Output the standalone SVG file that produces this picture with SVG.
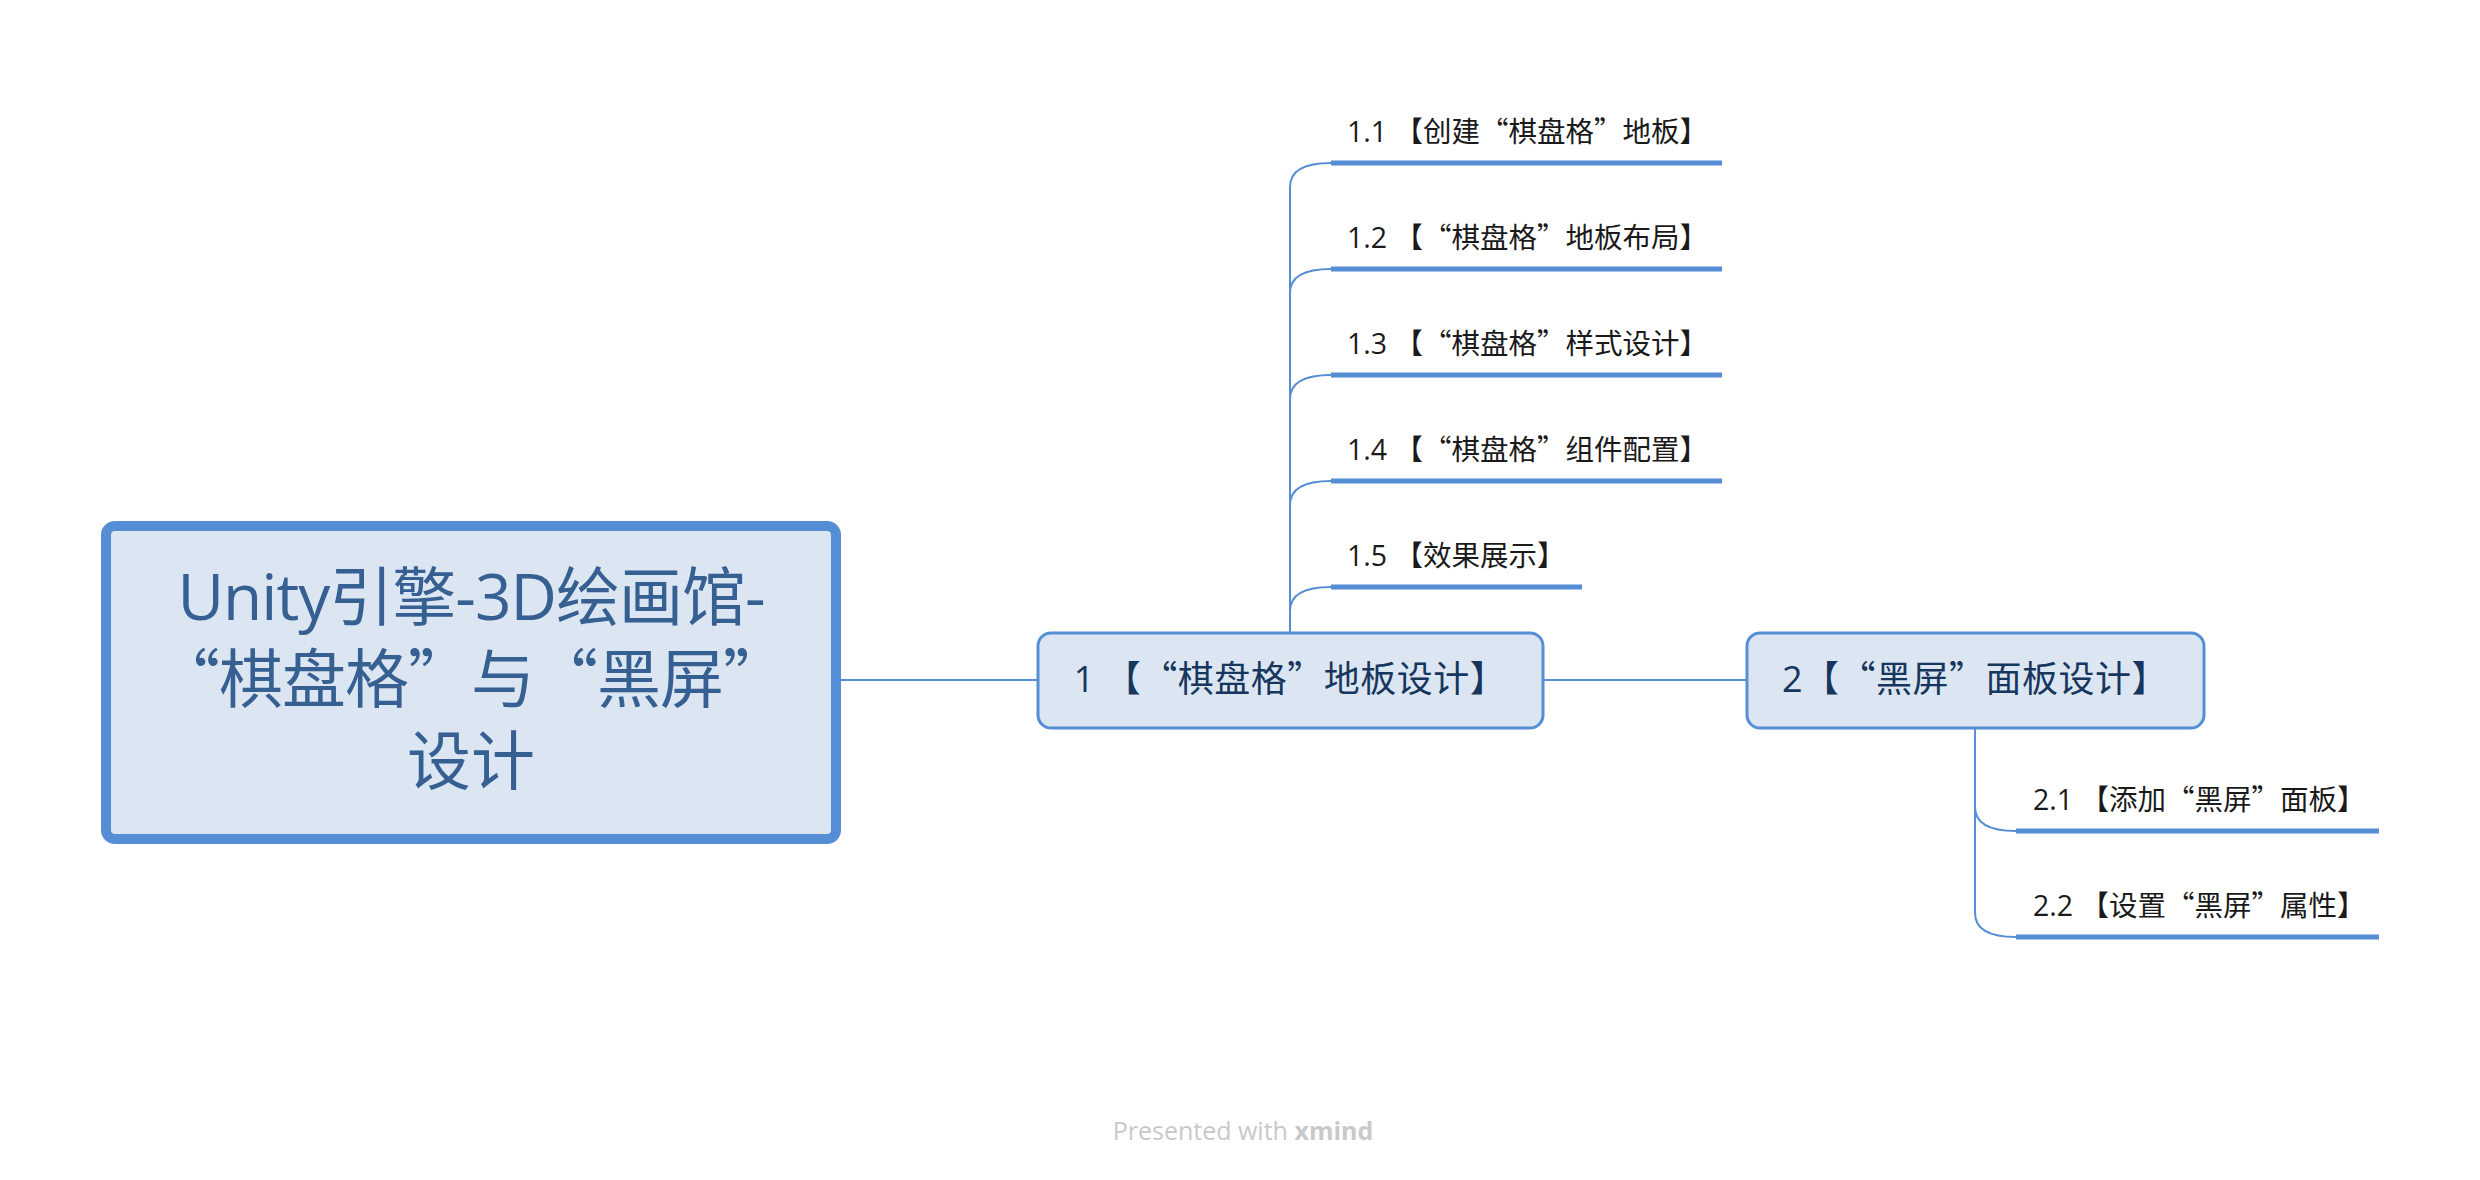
<svg xmlns="http://www.w3.org/2000/svg" width="2480" height="1180" viewBox="0 0 2480 1180">
<style>
text{text-spacing-trim:space-all;font-feature-settings:"chws" 0,"halt" 0}
.t{font-family:'Open Sans','Noto Sans CJK SC',sans-serif}
.c{font-family:'Noto Sans CJK SC','Open Sans',sans-serif}
.box{fill:#dce6f2;stroke:#558ed5}
.root{stroke-width:10}
.main{stroke-width:3}
.conn{fill:none;stroke:#558ed5;stroke-width:2}
.ul{stroke:#558ed5;stroke-width:5}
.rt{font-size:64px;fill:#376092;text-anchor:middle}
.mt{font-size:36px;fill:#17365d;text-anchor:middle;letter-spacing:0.5px}
.st{font-size:28.5px;fill:#1a1a1a}
</style>
<rect width="2480" height="1180" fill="#ffffff"/>
<g id="connectors">
<path class="conn" d="M838,680 H1037"/>
<path class="conn" d="M1544,680 H1746"/>
<path class="conn" d="M1290,632 V187"/>
<path class="conn" d="M1290,187 Q1290,163 1331,163"/>
<path class="conn" d="M1290,293 Q1290,269 1331,269"/>
<path class="conn" d="M1290,399 Q1290,375 1331,375"/>
<path class="conn" d="M1290,505 Q1290,481 1331,481"/>
<path class="conn" d="M1290,611 Q1290,587 1331,587"/>
<path class="conn" d="M1975,729 V913"/>
<path class="conn" d="M1975,807 Q1975,831 2016,831"/>
<path class="conn" d="M1975,913 Q1975,937 2016,937"/>
</g>
<g id="root">
<rect class="box root" x="106" y="526" width="730" height="313" rx="9"/>
<text class="t rt" x="471" y="620" letter-spacing="-1">Unity引擎-3D绘画馆-</text>
<text class="c rt" x="471" y="702" letter-spacing="-1">“棋盘格”与“黑屏”</text>
<text class="c rt" x="471" y="784">设计</text>
</g>
<g id="node1">
<rect class="box main" x="1038" y="633" width="505" height="95" rx="13"/>
<text class="t mt" x="1290" y="692">1 <tspan class="c">【“棋盘格”地板设计】</tspan></text>
</g>
<g id="node2">
<rect class="box main" x="1747" y="633" width="457" height="95" rx="13"/>
<text class="t mt" x="1975" y="692">2<tspan class="c">【“黑屏”面板设计】</tspan></text>
</g>
<g id="node1-1">
<text class="t st" x="1347" y="142">1.1 <tspan class="c">【创建“棋盘格”地板】</tspan></text>
<line class="ul" x1="1331" y1="163" x2="1722" y2="163"/>
</g>
<g id="node1-2">
<text class="t st" x="1347" y="248">1.2 <tspan class="c">【“棋盘格”地板布局】</tspan></text>
<line class="ul" x1="1331" y1="269" x2="1722" y2="269"/>
</g>
<g id="node1-3">
<text class="t st" x="1347" y="354">1.3 <tspan class="c">【“棋盘格”样式设计】</tspan></text>
<line class="ul" x1="1331" y1="375" x2="1722" y2="375"/>
</g>
<g id="node1-4">
<text class="t st" x="1347" y="460">1.4 <tspan class="c">【“棋盘格”组件配置】</tspan></text>
<line class="ul" x1="1331" y1="481" x2="1722" y2="481"/>
</g>
<g id="node1-5">
<text class="t st" x="1347" y="566">1.5 <tspan class="c">【效果展示】</tspan></text>
<line class="ul" x1="1331" y1="587" x2="1582" y2="587"/>
</g>
<g id="node2-1">
<text class="t st" x="2033" y="810">2.1 <tspan class="c">【添加“黑屏”面板】</tspan></text>
<line class="ul" x1="2016" y1="831" x2="2379" y2="831"/>
</g>
<g id="node2-2">
<text class="t st" x="2033" y="916">2.2 <tspan class="c">【设置“黑屏”属性】</tspan></text>
<line class="ul" x1="2016" y1="937" x2="2379" y2="937"/>
</g>
<text class="t" x="1243" y="1140" font-size="25" fill="#c9c9c9" text-anchor="middle">Presented with <tspan font-weight="bold">xmind</tspan></text>
</svg>
